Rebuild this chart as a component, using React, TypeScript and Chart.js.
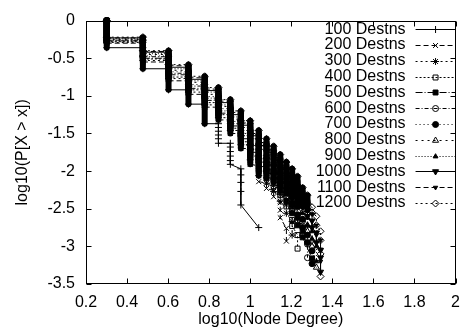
import React, { useEffect, useRef } from 'react';
import { Chart, registerables } from 'chart.js';
import { drawPoint } from 'chart.js/helpers';

Chart.register(...registerables);

const FONT = '"Liberation Sans", Arial, Helvetica, sans-serif';

// Series names (legend)
const seriesNames = [
  '100 Destns', '200 Destns', '300 Destns', '400 Destns', '500 Destns', '600 Destns',
  '700 Destns', '800 Destns', '900 Destns', '1000 Destns', '1100 Destns', '1200 Destns',
];

// Dense part: log10(P[X > x]) at the end of each degree group, degrees 2, 3, 4, ...
const ends100 = [-0.36, -0.64, -0.92, -1.11, -1.37];
const ends200 = [-0.30, -0.55, -0.80, -0.98, -1.15, -1.32, -1.50, -1.70, -1.91];
const ends300 = [-0.29, -0.53, -0.77, -0.95, -1.12, -1.29, -1.46, -1.65, -1.85, -2.06];
const ends400 = [-0.28, -0.51, -0.75, -0.92, -1.09, -1.25, -1.43, -1.61, -1.80, -2.00, -2.09];
const ends500 = [-0.27, -0.50, -0.72, -0.90, -1.06, -1.23, -1.40, -1.57, -1.75, -1.94, -2.03, -2.14];
const ends600 = [-0.26, -0.48, -0.70, -0.87, -1.03, -1.20, -1.37, -1.53, -1.71, -1.88, -1.98, -2.09, -2.20];
const ends700 = [-0.26, -0.47, -0.68, -0.85, -1.01, -1.17, -1.34, -1.50, -1.66, -1.83, -1.92, -2.03, -2.15, -2.28];
const ends800 = [-0.25, -0.45, -0.66, -0.82, -0.98, -1.14, -1.31, -1.46, -1.62, -1.77, -1.87, -1.98, -2.09, -2.21, -2.35];
const ends900 = [-0.24, -0.44, -0.64, -0.80, -0.95, -1.12, -1.28, -1.42, -1.57, -1.71, -1.81, -1.92, -2.03, -2.15, -2.28, -2.42];
const ends1000 = [-0.23, -0.42, -0.62, -0.78, -0.93, -1.09, -1.25, -1.39, -1.53, -1.66, -1.75, -1.86, -1.97, -2.08, -2.20, -2.34, -2.47];
const ends1100 = [-0.23, -0.41, -0.60, -0.76, -0.91, -1.07, -1.22, -1.36, -1.50, -1.62, -1.71, -1.82, -1.93, -2.03, -2.14, -2.28, -2.40, -2.52];
const ends1200 = [-0.22, -0.40, -0.585, -0.74, -0.89, -1.05, -1.20, -1.33, -1.46, -1.57, -1.67, -1.78, -1.88, -1.97, -2.07, -2.22, -2.32, -2.43];

// Sparse tails: individual [degree, log10(P[X > x])] points
const tail100: [number, number][] = [[7, -1.37], [7, -1.42], [7, -1.47], [7, -1.52], [7, -1.57], [7, -1.63], [8, -1.63], [8, -1.68], [8, -1.74], [8, -1.80], [8, -1.86], [8, -1.91], [9, -1.97], [9, -2.05], [9, -2.15], [9, -2.27], [9, -2.45], [11, -2.75]];
const tail200: [number, number][] = [[11, -1.93], [11, -2.03], [11, -2.14], [12, -2.16], [12, -2.23], [13, -2.26], [13, -2.34], [14, -2.42], [14, -2.52], [14, -2.62], [15, -2.76], [15, -2.93]];
const tail300: [number, number][] = [[12, -2.09], [12, -2.16], [13, -2.19], [13, -2.27], [14, -2.31], [14, -2.40], [15, -2.45], [15, -2.56], [16, -2.67], [16, -2.85]];
const tail400: [number, number][] = [[13, -2.12], [13, -2.20], [14, -2.24], [14, -2.32], [15, -2.36], [15, -2.47], [16, -2.53], [16, -2.65], [16, -2.73], [17, -2.85], [17, -3.03]];
const tail500: [number, number][] = [[14, -2.17], [14, -2.26], [15, -2.30], [15, -2.40], [16, -2.45], [16, -2.56], [17, -2.62], [17, -2.72], [18, -2.80], [18, -2.88], [20, -3.16]];
const tail600: [number, number][] = [[15, -2.24], [15, -2.33], [16, -2.38], [16, -2.48], [17, -2.54], [17, -2.65], [18, -2.73], [18, -2.85], [19, -2.97], [19, -3.15]];
const tail700: [number, number][] = [[16, -2.32], [16, -2.42], [17, -2.47], [17, -2.58], [18, -2.64], [18, -2.75], [19, -2.85], [19, -2.95], [20, -3.06], [20, -3.23]];
const tail800: [number, number][] = [[17, -2.39], [17, -2.47], [18, -2.54], [18, -2.65], [19, -2.72], [19, -2.80], [20, -2.92], [20, -3.00], [21, -3.28]];
const tail900: [number, number][] = [[18, -2.46], [18, -2.56], [19, -2.62], [19, -2.72], [20, -2.80], [20, -2.90], [21, -3.00], [21, -3.20]];
const tail1000: [number, number][] = [[19, -2.52], [19, -2.60], [20, -2.66], [20, -2.75], [21, -2.82], [21, -2.95], [22, -3.05], [22, -3.15], [22, -3.34]];
const tail1100: [number, number][] = [[20, -2.57], [20, -2.66], [21, -2.72], [21, -2.85], [22, -2.92], [22, -3.04], [22, -3.20]];
const tail1200: [number, number][] = [[20, -2.48], [20, -2.55], [21, -2.60], [21, -2.72], [22, -2.80], [22, -2.92], [22, -3.10], [22, -3.40]];

const allEnds = [ends100, ends200, ends300, ends400, ends500, ends600, ends700, ends800, ends900, ends1000, ends1100, ends1200];
const allTails = [tail100, tail200, tail300, tail400, tail500, tail600, tail700, tail800, tail900, tail1000, tail1100, tail1200];

// Axis ranges
const X_MIN = 0.2, X_MAX = 2, X_STEP = 0.2;
const Y_MIN = -3.5, Y_MAX = 0, Y_STEP = 0.5;

// Styles (gnuplot monochrome line types / point types)
const dashes: number[][] = [[], [5, 3], [2, 3], [2, 2], [7, 2, 1, 2], [4, 2, 1, 2], [1, 3], [2, 4], [1, 2], [], [5, 3], [2, 3]];
const markers: { style: string; fill: boolean; radius: number; rotation: number }[] = [
  { style: 'cross', fill: false, radius: 3.5, rotation: 0 },
  { style: 'crossRot', fill: false, radius: 3.5, rotation: 0 },
  { style: 'star', fill: false, radius: 3.5, rotation: 0 },
  { style: 'rect', fill: false, radius: 3.5, rotation: 0 },
  { style: 'rect', fill: true, radius: 3.5, rotation: 0 },
  { style: 'circle', fill: false, radius: 3, rotation: 0 },
  { style: 'circle', fill: true, radius: 3, rotation: 0 },
  { style: 'triangle', fill: false, radius: 3.5, rotation: 0 },
  { style: 'triangle', fill: true, radius: 2.8, rotation: 0 },
  { style: 'triangle', fill: true, radius: 3.5, rotation: 180 },
  { style: 'triangle', fill: true, radius: 2.5, rotation: 180 },
  { style: 'rectRot', fill: false, radius: 3.5, rotation: 0 },
];

function buildPoints(ends: number[], tail: [number, number][]) {
  const pts: { x: number; y: number }[] = [];
  let prev = 0;
  ends.forEach((e, i) => {
    const d = 2 + i;
    pts.push({ x: Math.log10(d), y: prev });
    pts.push({ x: Math.log10(d), y: e });
    prev = e;
  });
  tail.forEach(([d, y]) => pts.push({ x: Math.log10(d), y }));
  return pts;
}

const fmt = (v: number) => String(Math.round(v * 10) / 10);

export default function App() {
  const ref = useRef<HTMLCanvasElement | null>(null);

  useEffect(() => {
    if (!ref.current) return;
    const datasets = seriesNames.map((name, i) => {
      const denseCount = allEnds[i].length * 2;
      const isBar = (c: any) => c.p1DataIndex < denseCount && c.p0.parsed.x === c.p1.parsed.x;
      const m = markers[i];
      return {
        label: name,
        data: buildPoints(allEnds[i], allTails[i]),
        borderColor: '#000',
        borderWidth: 1,
        borderDash: dashes[i],
        backgroundColor: 'rgba(0,0,0,0)',
        fill: false,
        tension: 0,
        clip: false as any,
        pointStyle: m.style as any,
        pointRadius: m.radius,
        pointRotation: m.rotation,
        pointBorderColor: '#000',
        pointBorderWidth: 1,
        pointBackgroundColor: m.fill ? '#000' : 'rgba(0,0,0,0)',
        segment: {
          borderWidth: (c: any) => (isBar(c) ? 6 : 1),
          borderDash: (c: any) => (isBar(c) ? [] : dashes[i]),
          borderCapStyle: (c: any) => (isBar(c) ? 'round' : 'butt'),
        },
      };
    });

    const framePlugin = {
      id: 'frame',
      afterDraw(chart: any) {
        const ctx = chart.ctx as CanvasRenderingContext2D;
        const { left, right, top, bottom } = chart.chartArea;
        const xs = chart.scales.x;
        const ys = chart.scales.y;
        ctx.save();
        ctx.strokeStyle = '#000';
        ctx.lineWidth = 1;
        ctx.setLineDash([]);
        const L = Math.round(left) + 0.5, R = Math.round(right) - 0.5;
        const T = Math.round(top) + 0.5, B = Math.round(bottom) - 0.5;
        ctx.strokeRect(L, T, R - L, B - T);
        const tl = 5;
        ctx.beginPath();
        xs.ticks.forEach((t: any) => {
          const px = Math.round(xs.getPixelForValue(t.value)) + 0.5;
          ctx.moveTo(px, B); ctx.lineTo(px, B - tl);
          ctx.moveTo(px, T); ctx.lineTo(px, T + tl);
        });
        ys.ticks.forEach((t: any) => {
          const py = Math.round(ys.getPixelForValue(t.value)) + 0.5;
          ctx.moveTo(L, py); ctx.lineTo(L + tl, py);
          ctx.moveTo(R, py); ctx.lineTo(R - tl, py);
        });
        ctx.stroke();

        // gnuplot-style key
        ctx.font = `16px ${FONT}`;
        ctx.textAlign = 'right';
        ctx.textBaseline = 'middle';
        ctx.fillStyle = '#000';
        const textRight = right - 50;
        const sx0 = right - 40, sx1 = right;
        seriesNames.forEach((name, i) => {
          const y = top + 8.5 + i * 15.8;
          ctx.fillText(name, textRight, y);
          ctx.beginPath();
          ctx.setLineDash(dashes[i]);
          ctx.lineWidth = 1;
          ctx.strokeStyle = '#000';
          ctx.moveTo(sx0, Math.round(y) + 0.5);
          ctx.lineTo(sx1, Math.round(y) + 0.5);
          ctx.stroke();
          ctx.setLineDash([]);
          const m = markers[i];
          ctx.fillStyle = m.fill ? '#000' : 'rgba(0,0,0,0)';
          ctx.strokeStyle = '#000';
          drawPoint(ctx, { pointStyle: m.style as any, radius: m.radius, rotation: m.rotation, borderWidth: 1 } as any, (sx0 + sx1) / 2, Math.round(y) + 0.5);
          ctx.fillStyle = '#000';
        });
        ctx.restore();
      },
    };

    const chart = new Chart(ref.current, {
      type: 'line',
      data: { datasets: datasets as any },
      options: {
        animation: false,
        responsive: false,
        maintainAspectRatio: false,
        parsing: false as any,
        normalized: true,
        layout: { padding: { left: 0, top: 15, right: 13, bottom: 0 } },
        plugins: { legend: { display: false }, tooltip: { enabled: false } },
        scales: {
          x: {
            type: 'linear',
            min: X_MIN,
            max: X_MAX,
            grid: { display: false, drawTicks: false },
            border: { display: false },
            ticks: {
              stepSize: X_STEP,
              color: '#000',
              font: { family: FONT, size: 16 },
              padding: 9,
              maxRotation: 0,
              autoSkip: false,
              callback: (v: any) => fmt(Number(v)),
            },
            title: {
              display: true,
              text: 'log10(Node Degree)',
              color: '#000',
              font: { family: FONT, size: 16 },
              padding: { top: 0, bottom: 3 },
            },
            afterFit: (s: any) => { s.height = 48; },
          },
          y: {
            type: 'linear',
            min: Y_MIN,
            max: Y_MAX,
            grid: { display: false, drawTicks: false },
            border: { display: false },
            ticks: {
              stepSize: Y_STEP,
              color: '#000',
              font: { family: FONT, size: 16 },
              padding: 11,
              autoSkip: false,
              callback: (v: any) => fmt(Number(v)),
            },
            title: {
              display: true,
              text: 'log10(P[X > x])',
              color: '#000',
              font: { family: FONT, size: 16 },
              padding: { top: 13, bottom: 0 },
            },
            afterFit: (s: any) => { s.width = 86; },
          },
        },
      },
      plugins: [framePlugin],
    });
    return () => chart.destroy();
  }, []);

  return (
    <div style={{ position: 'absolute', left: 0, top: 0, width: 469, height: 332, background: '#fff' }}>
      <canvas ref={ref} width={469} height={332} style={{ width: 469, height: 332, display: 'block' }} />
    </div>
  );
}
